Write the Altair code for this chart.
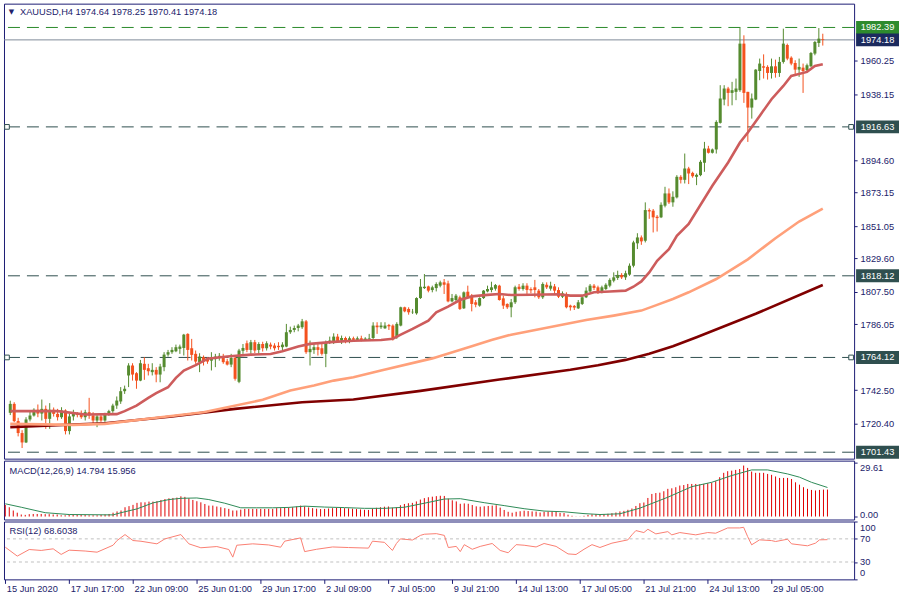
import json
import numpy as np
import pandas as pd
import altair as alt

# ---------------- data ----------------
OPEN = [1727.5,1733.4,1722.0,1714.1,1707.9,1723.1,1725.7,1729.5,1727.0,1730.1,
1723.5,1729.5,1726.8,1724.6,1729.0,1715.4,1725.1,1726.8,1726.5,1724.6,
1727.9,1725.7,1722.4,1725.1,1722.4,1726.4,1728.6,1732.3,1735.0,1741.8,
1752.2,1758.8,1753.7,1748.8,1759.9,1757.0,1754.4,1755.9,1752.8,1757.7,
1766.0,1767.6,1768.2,1769.8,1770.4,1779.7,1770.2,1766.5,1761.0,1764.3,
1763.2,1762.0,1763.0,1764.5,1764.7,1761.6,1759.4,1763.8,1748.0,1768.5,
1773.5,1769.1,1774.2,1769.1,1773.0,1770.2,1772.6,1772.0,1771.8,1770.9,
1771.3,1780.8,1782.3,1783.6,1784.1,1788.0,1767.6,1769.0,1770.9,1770.2,
1766.5,1774.2,1774.5,1777.9,1775.3,1777.0,1774.8,1776.8,1775.8,1776.8,
1775.5,1776.6,1777.0,1785.2,1784.1,1783.4,1785.6,1785.2,1777.5,1785.2,
1797.3,1796.2,1794.0,1793.3,1803.4,1810.0,1811.1,1808.7,1810.0,1811.6,
1813.8,1813.1,1801.2,1802.1,1803.9,1796.6,1807.6,1804.3,1800.6,1798.4,
1803.4,1807.8,1808.7,1809.6,1811.6,1803.2,1799.5,1797.3,1800.6,1810.9,
1809.4,1811.6,1809.4,1810.5,1808.3,1803.9,1812.2,1809.6,1811.1,1808.7,
1804.3,1806.1,1798.4,1798.2,1796.6,1799.5,1803.9,1807.8,1811.6,1810.5,
1807.8,1809.4,1811.6,1814.9,1816.7,1818.7,1817.1,1818.9,1824.8,1839.6,
1843.5,1841.3,1861.6,1861.2,1857.2,1856.8,1864.5,1872.6,1866.7,1870.0,
1883.6,1881.6,1889.1,1886.2,1883.6,1884.7,1892.9,1902.3,1899.5,1901.7,
1919.3,1934.7,1942.0,1939.1,1939.8,1940.9,1971.7,1939.8,1929.4,1934.7,
1953.6,1956.7,1956.3,1952.3,1956.7,1952.3,1959.6,1970.8,1962.4,1958.9,
1954.5,1955.8,1954.1,1956.7,1965.1,1972.1,1974.64]

HIGH = [1735.5,1734.5,1724.2,1716.0,1724.6,1728.6,1730.5,1733.0,1736.3,1732.3,
1733.9,1731.0,1730.1,1731.2,1729.8,1726.8,1729.5,1728.0,1729.0,1729.5,
1737.4,1727.9,1726.4,1726.0,1727.5,1729.5,1733.5,1738.3,1744.5,1745.5,
1760.3,1760.3,1754.4,1762.5,1764.3,1759.9,1760.3,1757.7,1759.9,1767.6,
1769.1,1770.9,1772.6,1772.6,1779.7,1780.1,1776.4,1768.7,1766.9,1765.4,
1764.3,1767.6,1766.5,1767.0,1766.5,1763.2,1766.5,1765.4,1769.8,1773.0,
1775.3,1775.7,1775.7,1774.2,1774.5,1774.8,1774.0,1773.5,1774.2,1774.2,
1786.3,1784.5,1785.2,1786.3,1789.6,1788.9,1775.3,1773.0,1773.0,1773.0,
1775.3,1777.9,1780.1,1779.7,1778.6,1777.9,1778.0,1777.9,1778.0,1778.5,
1777.5,1779.7,1787.4,1787.4,1787.4,1787.4,1786.3,1786.0,1787.4,1797.7,
1797.7,1797.3,1796.2,1803.9,1816.0,1819.3,1811.6,1811.6,1813.8,1814.9,
1816.0,1814.9,1806.1,1806.1,1805.0,1807.8,1811.6,1806.1,1802.1,1803.9,
1808.7,1811.6,1814.2,1812.7,1812.2,1805.0,1799.9,1802.8,1811.6,1812.7,
1813.2,1813.2,1810.5,1815.4,1809.4,1813.8,1813.8,1814.2,1812.7,1810.5,
1807.8,1807.2,1799.0,1798.8,1802.1,1804.3,1810.5,1812.7,1812.7,1811.6,
1811.6,1813.2,1816.5,1820.4,1821.5,1819.9,1821.5,1826.3,1841.3,1846.3,
1844.8,1866.7,1862.7,1862.3,1858.3,1866.7,1877.0,1875.9,1874.0,1884.7,
1884.7,1899.0,1890.2,1887.0,1885.8,1894.6,1906.7,1904.1,1902.3,1921.0,
1944.2,1944.2,1943.1,1946.4,1948.6,1982.39,1977.2,1939.8,1938.7,1954.8,
1961.8,1964.6,1957.4,1961.8,1961.1,1962.9,1981.6,1971.7,1963.3,1960.7,
1961.8,1958.5,1958.5,1966.2,1973.4,1982.0,1978.25]

LOW = [1726.0,1721.3,1711.9,1704.2,1707.5,1721.8,1725.0,1724.6,1722.4,1716.9,
1716.9,1725.0,1722.4,1723.5,1713.2,1713.2,1722.4,1724.5,1723.5,1722.4,
1723.5,1720.2,1718.0,1721.5,1721.5,1725.5,1727.5,1730.1,1733.4,1740.0,
1744.5,1748.8,1743.4,1748.4,1749.3,1752.2,1752.2,1747.7,1747.7,1755.0,
1764.7,1766.5,1767.6,1766.5,1765.4,1762.1,1762.1,1759.9,1754.4,1758.8,
1759.9,1755.5,1757.7,1762.0,1759.9,1758.8,1757.7,1748.8,1747.1,1766.5,
1767.6,1766.5,1767.0,1766.5,1768.0,1768.7,1769.5,1768.7,1769.1,1768.7,
1770.9,1779.7,1780.8,1781.4,1783.0,1766.5,1758.8,1766.5,1765.4,1765.4,
1757.7,1773.0,1773.0,1774.2,1773.0,1773.5,1773.5,1774.5,1775.0,1774.8,
1775.0,1775.3,1775.0,1779.7,1783.0,1783.0,1782.3,1775.3,1776.4,1784.7,
1794.0,1792.4,1792.9,1792.4,1802.8,1809.4,1807.2,1807.2,1807.8,1810.5,
1806.1,1800.6,1800.6,1801.2,1795.5,1796.2,1803.4,1794.6,1797.3,1797.7,
1802.8,1807.2,1807.2,1808.3,1801.7,1796.2,1796.2,1790.7,1799.5,1808.3,
1808.3,1806.1,1806.5,1803.9,1802.8,1802.8,1809.4,1808.3,1806.1,1803.4,
1803.4,1796.6,1795.1,1795.5,1796.2,1798.8,1803.4,1807.2,1808.7,1806.1,
1806.5,1808.7,1810.5,1813.8,1815.4,1816.0,1815.4,1818.1,1823.7,1835.8,
1838.6,1840.2,1855.8,1846.8,1847.4,1856.3,1863.4,1865.6,1863.8,1869.3,
1879.2,1879.2,1878.8,1883.0,1878.1,1884.0,1886.9,1899.0,1899.0,1899.0,
1918.8,1930.9,1930.3,1930.9,1934.3,1939.8,1932.5,1906.7,1922.1,1934.3,
1947.5,1948.6,1947.9,1948.6,1949.2,1949.7,1958.5,1960.7,1957.4,1950.8,
1949.7,1939.1,1953.0,1956.3,1964.0,1969.5,1970.41]

CLOSE = [1733.4,1722.0,1714.1,1707.9,1723.1,1725.7,1729.5,1727.0,1730.1,1723.5,
1729.5,1726.8,1724.6,1729.0,1715.4,1725.1,1726.8,1726.0,1724.6,1727.9,
1725.7,1722.4,1725.1,1722.4,1726.4,1728.6,1732.3,1735.6,1741.8,1743.4,
1758.8,1752.8,1748.8,1760.3,1755.9,1755.0,1755.9,1752.8,1758.1,1766.0,
1767.6,1769.1,1770.9,1771.3,1779.2,1769.1,1765.8,1761.4,1764.7,1761.6,
1761.4,1764.3,1764.7,1765.2,1761.0,1759.4,1763.8,1750.0,1768.7,1770.4,
1769.1,1774.2,1768.7,1773.0,1770.2,1773.5,1771.3,1770.2,1770.9,1772.6,
1780.8,1782.3,1783.6,1785.2,1788.0,1767.6,1769.8,1770.9,1769.1,1766.5,
1774.2,1775.3,1777.9,1774.8,1777.0,1774.8,1776.8,1775.8,1776.8,1775.5,
1776.6,1777.0,1785.2,1784.1,1785.2,1785.2,1784.7,1776.4,1786.3,1797.3,
1794.6,1794.0,1794.3,1803.4,1810.9,1810.9,1808.3,1810.5,1812.7,1813.8,
1812.2,1801.2,1803.4,1805.0,1796.2,1807.2,1803.9,1799.5,1799.0,1803.4,
1808.3,1809.4,1810.5,1812.0,1802.1,1798.4,1797.3,1800.6,1810.5,1809.4,
1811.6,1808.8,1808.5,1808.7,1803.9,1812.7,1810.5,1811.6,1808.3,1804.3,
1806.5,1797.3,1797.3,1797.1,1800.6,1803.9,1808.3,1811.6,1810.1,1807.2,
1810.5,1812.2,1815.4,1817.1,1818.7,1817.1,1819.8,1824.8,1840.2,1843.5,
1840.9,1861.6,1860.7,1856.8,1856.3,1865.1,1872.6,1866.7,1870.4,1883.6,
1881.6,1889.1,1885.8,1884.0,1884.9,1893.5,1902.3,1899.5,1901.7,1919.9,
1935.4,1942.0,1939.1,1940.9,1942.0,1971.7,1939.1,1929.4,1935.4,1954.5,
1958.5,1955.8,1952.3,1956.7,1952.3,1959.6,1971.7,1961.8,1958.5,1954.5,
1956.3,1953.6,1957.4,1965.5,1972.8,1975.0,1974.18]

# moving averages, sampled at bar indices
MA_FAST_BAR = [0,12,19,27,29,32,35,37,40,42,44,47,50,55,61,66,69,73,76,82,
               87,94,97,99,102,106,108,111,114,117,121,124,127,132,139,142,145,148,152,156,
               158,160,162,164,167,169,172,178,182,185,187,190,193,196,198,202,204,206]
MA_FAST = [1728.6,1728.6,1726.4,1726.6,1728.6,1732.3,1737.4,1740.5,1744.4,1750.6,
           1755.4,1759.0,1763.2,1764.7,1766.0,1766.4,1768.2,1771.3,1773.1,1774.4,
           1775.2,1775.7,1776.5,1779.2,1783.0,1788.5,1794.0,1797.7,1802.1,1804.5,
           1805.5,1806.1,1805.4,1805.6,1805.9,1805.0,1805.0,1807.2,1807.7,1808.3,
           1810.9,1814.4,1820.4,1828.1,1835.8,1844.6,1852.4,1877.7,1893.1,1906.3,
           1912.9,1923.9,1934.9,1943.7,1950.3,1953.0,1956.9,1958.1]
MA_MID_BAR = [0,16,24,37,49,64,71,77,82,87,94,107,117,122,127,146,153,160,164,168,172,179,187,194,200,206]
MA_MID = [1720.2,1719.5,1720.2,1724.2,1727.9,1736.1,1742.2,1745.5,1748.8,1751.0,1755.5,1763.5,
          1771.5,1775.7,1779.2,1788.9,1791.8,1795.1,1798.9,1802.8,1807.2,1816.0,1829.0,1843.0,1854.0,1862.5]
MA_SLOW_BAR = [0,24,41,57,74,87,104,124,142,149,156,162,168,174,189,206]
MA_SLOW = [1718.0,1720.6,1725.0,1730.1,1734.5,1736.3,1742.0,1749.5,1756.0,1759.0,1762.5,1766.5,
           1771.5,1777.5,1793.0,1812.0]

MACD_MAIN = [6.4,5.1,3.3,2.1,1.1,0.9,1.3,1.4,1.4,1.4,
1.3,1.3,1.1,1.1,0.7,0.7,0.9,0.9,0.9,0.9,
0.9,0.7,0.7,0.7,0.9,1.1,1.4,2.1,2.8,3.3,
5.1,5.7,6.4,7.5,7.8,7.8,8.2,8.2,8.4,9.1,
9.6,10.0,10.2,10.4,11.1,10.8,10.0,9.1,8.4,7.8,
6.9,6.0,6.0,5.5,5.1,4.6,4.2,3.3,3.3,3.8,
4.2,4.2,4.2,4.2,4.2,4.2,4.2,4.2,4.6,4.6,
4.8,5.0,5.1,5.5,6.0,5.6,5.0,4.6,4.3,4.1,
4.2,4.4,4.6,4.7,4.7,4.6,4.5,4.3,4.1,3.9,
3.7,3.6,4.3,4.8,5.1,5.4,5.5,4.8,5.0,6.2,
6.9,7.3,7.5,8.3,9.3,10.1,10.6,10.9,11.2,11.4,
11.3,9.8,8.9,8.3,7.0,7.2,7.0,6.3,5.6,5.4,
5.6,5.8,6.0,6.2,4.9,3.6,2.6,2.1,2.6,2.9,
3.2,3.0,2.8,2.7,2.2,2.6,2.7,2.8,2.6,2.0,
1.9,1.0,0.4,0.1,0.1,0.4,0.9,1.2,1.3,
1.1,1.3,1.5,1.8,2.2,2.8,3.1,3.7,4.4,5.8,
7.3,7.7,10.2,12.4,12.9,13.1,13.9,15.2,15.5,16.1,
17.0,17.3,17.9,17.9,17.9,17.7,17.9,18.3,18.6,19.4,
21.6,24.0,24.9,25.2,25.6,26.1,28.0,26.7,24.7,24.0,
24.0,24.0,23.4,22.9,22.0,21.2,21.2,21.2,20.6,18.8,
17.5,16.1,15.2,14.6,14.3,14.6,14.8,14.794]
MACD_SIGNAL_BAR = [0,4,10,16,27,29,33,37,41,44,48,51,55,59,63,67,71,75,80,85,
                   90,95,100,105,110,114,120,125,130,135,140,145,149,154,159,166,172,177,182,187,
                   191,196,199,202,206]
MACD_SIGNAL = [7.0,5.1,2.1,1.1,0.9,2.1,4.2,7.5,9.3,10.0,10.2,9.3,7.3,4.8,4.8,4.8,5.0,5.7,5.2,4.9,
               4.5,4.5,5.1,7.3,9.6,9.8,7.6,6.0,4.3,3.0,2.6,1.6,1.1,1.5,4.6,10.6,16.4,18.8,22.5,25.6,
               25.6,23.4,21.6,18.8,15.956]

RSI_BAR = [0,3,6,9,12,14,16,20,23,27,28,30,32,34,38,40,44,46,49,53,
           56,57,58,62,66,69,70,74,75,78,82,86,91,92,95,97,98,99,102,104,
           105,108,110,111,113,114,115,117,119,122,124,126,128,130,133,135,138,141,143,145,
           147,149,152,156,157,158,160,161,163,166,167,169,173,176,178,181,184,185,186,187,
           189,192,193,196,197,201,203,204,206]
RSI = [55.6,40.2,51.6,50.0,52.8,43.1,50.5,49.0,47.0,59.0,67.1,77.4,67.1,65.9,61.4,70.0,77.4,61.4,54.6,56.7,
       51.6,38.4,59.0,61.4,59.5,55.6,66.0,71.7,48.0,52.0,56.0,55.0,54.0,66.0,64.0,50.0,62.0,70.0,68.0,76.0,
       78.0,79.0,76.0,55.0,57.0,48.0,60.0,52.0,57.0,62.0,50.0,46.0,60.0,59.0,56.0,62.0,57.0,44.0,43.0,52.0,
       60.0,55.1,62.6,68.3,76.9,84.3,80.9,86.6,78.6,82.5,76.9,80.9,76.9,80.9,79.8,88.9,88.9,90.0,74.0,59.7,
       68.3,67.0,65.4,69.4,61.4,58.0,62.6,68.3,68.6038]

X_TICK_BARS = [0,16,32,48,64,80,96,112,128,144,160,176,192]
X_TICK_LABELS = ["15 Jun 2020","17 Jun 17:00","22 Jun 09:00","25 Jun 01:00","29 Jun 17:00",
                 "2 Jul 09:00","7 Jul 05:00","9 Jul 21:00","14 Jul 13:00","17 Jul 05:00",
                 "21 Jul 21:00","24 Jul 13:00","29 Jul 05:00"]
PRICE_TICKS = [1960.25,1938.15,1894.60,1873.15,1851.05,1829.60,1807.50,1786.05,1742.50,1720.40]
LEVELS = [1916.63,1818.12,1764.12,1701.43]
MARKED_LEVELS = [1916.63,1764.12]
HIGH_LEVEL = [1982.39]
LAST_PRICE = [1974.18]
LEVEL_TAGS = ["1916.63","1818.12","1764.12","1701.43"]
HIGH_TAG = ["1982.39"]
LAST_TAG = ["1974.18"]
MACD_LABEL_VALUES = [29.61, 0.0]
MACD_LABEL_TEXT = ["29.61", "0.00"]
RSI_LEVELS = [70, 30]
RSI_TICKS = [100, 70, 30, 0]

TITLE = "XAUUSD,H4  1974.64 1978.25 1970.41 1974.18"
MACD_TITLE = "MACD(12,26,9) 14.794 15.956"
RSI_TITLE = "RSI(12) 68.6038"

# ---------------- styling ----------------
W = 852
H_MAIN, H_MACD, H_RSI = 456, 59, 58
NAVY = "#1c1c74"
TXT = "#22226a"
UP, DOWN = "#558b2f", "#f4511e"
SLATE = "#2f4f4f"
FONT = "Liberation Sans"
FS = 9.3

xs = alt.Scale(domain=[-0.325, 212.675], nice=False, zero=False)
ps = alt.Scale(domain=[1697.18, 1998.14], nice=False, zero=False)
ms = alt.Scale(domain=[-1.64, 30.70], nice=False, zero=False)
rs = alt.Scale(domain=[0, 100], nice=False, zero=False)

P_AXIS = alt.Axis(orient="right", values=PRICE_TICKS, format=".2f", tickSize=3, labelPadding=3,
                  domain=False, grid=False, title=None, labelOverlap=False, labelFlush=False)
M_AXIS = alt.Axis(orient="right", values=MACD_LABEL_VALUES, labels=False, tickSize=3,
                  domain=False, grid=False, title=None)
R_AXIS = alt.Axis(orient="right", values=RSI_TICKS, labels=False, tickSize=3,
                  domain=False, grid=False, title=None)

def PY(field):
    return alt.Y(field, scale=ps, axis=P_AXIS)

def MY(field):
    return alt.Y(field, scale=ms, axis=M_AXIS)

def RY(field):
    return alt.Y(field, scale=rs, axis=R_AXIS)

candles = pd.DataFrame({"i": list(range(len(OPEN))), "o": OPEN, "h": HIGH, "l": LOW, "c": CLOSE})
candles["dir"] = np.where(candles["c"] >= candles["o"], "up", "down")
dir_color = alt.Color("dir:N", scale=alt.Scale(domain=["up", "down"], range=[UP, DOWN]), legend=None)

X_NONE = alt.X("i:Q", scale=xs, axis=None)

# ---------------- main panel ----------------
lev = alt.Chart(pd.DataFrame({"p": LEVELS})).mark_rule(
    color=SLATE, strokeWidth=1, strokeDash=[12, 7]).encode(y=PY("p:Q"))
hi_line = alt.Chart(pd.DataFrame({"p": HIGH_LEVEL})).mark_rule(
    color="#2a8a2a", strokeWidth=1, strokeDash=[12, 7]).encode(y=PY("p:Q"))
last_line = alt.Chart(pd.DataFrame({"p": LAST_PRICE})).mark_rule(
    color="#7f8c99", strokeWidth=1).encode(y=PY("p:Q"))

def ma_line(bars, vals, color):
    return alt.Chart(pd.DataFrame({"i": bars, "v": vals})).mark_line(
        color=color, strokeWidth=2.6, interpolate="linear").encode(x=X_NONE, y=PY("v:Q"))

wicks = alt.Chart(candles).mark_rule(strokeWidth=1).encode(
    x=X_NONE, y=PY("l:Q"), y2="h", color=dir_color)
bodies = alt.Chart(candles).mark_bar(size=3).encode(
    x=X_NONE, y=PY("o:Q"), y2="c", color=dir_color)

def squares(xpx):
    return alt.Chart(pd.DataFrame({"p": MARKED_LEVELS})).mark_square(
        size=22, fill="white", stroke=SLATE, strokeWidth=1, opacity=1).encode(
        x=alt.value(xpx), y=PY("p:Q"))

def tag(prices, texts, fill):
    d = pd.DataFrame({"p": prices, "t": texts})
    r = alt.Chart(d).mark_rect(yOffset=-6.5, y2Offset=6.5, color=fill).encode(
        x=alt.value(W + 2), x2=alt.value(W + 45), y=PY("p:Q"), y2="p")
    t = alt.Chart(d).mark_text(color="white", align="center", baseline="middle",
                               font=FONT, fontSize=FS).encode(
        x=alt.value(W + 23.5), y=PY("p:Q"), text="t:N")
    return [r, t]

tri = alt.Chart(pd.DataFrame({"t": ["▼"]})).mark_text(
    align="center", baseline="middle", fontSize=7, color=TXT, font="DejaVu Sans").encode(
    x=alt.value(7.5), y=alt.value(8.3), text="t:N")
title = alt.Chart(pd.DataFrame({"t": [TITLE]})).mark_text(
    align="left", baseline="middle", color=TXT, font=FONT, fontSize=FS).encode(
    x=alt.value(16), y=alt.value(8.5), text="t:N")

main = alt.layer(
    lev, hi_line, last_line, squares(3), squares(W - 3),
    wicks, bodies,
    ma_line(MA_SLOW_BAR, MA_SLOW, "#800000"),
    ma_line(MA_MID_BAR, MA_MID, "#ffa07a"),
    ma_line(MA_FAST_BAR, MA_FAST, "#cd5c5c"),
    *tag(HIGH_LEVEL, HIGH_TAG, "#2e8b2e"),
    *tag(LAST_PRICE, LAST_TAG, "#1b2a5e"),
    *tag(LEVELS, LEVEL_TAGS, SLATE),
    tri, title,
).properties(width=W, height=H_MAIN)

# ---------------- MACD panel ----------------
macd_df = pd.DataFrame({"i": list(range(len(MACD_MAIN))), "v": MACD_MAIN})
macd_bars = alt.Chart(macd_df).mark_rule(color="#e00000", strokeWidth=1).encode(
    x=X_NONE, y=MY("v:Q"), y2=alt.datum(0))
macd_sig = alt.Chart(pd.DataFrame({"i": MACD_SIGNAL_BAR, "v": MACD_SIGNAL})).mark_line(
    color="#2e8b57", strokeWidth=1).encode(x=X_NONE, y=MY("v:Q"))
ml = pd.DataFrame({"v": MACD_LABEL_VALUES, "t": MACD_LABEL_TEXT})
macd_lab_top = alt.Chart(ml.iloc[[0]]).mark_text(
    align="left", baseline="middle", dy=5, color=TXT, font=FONT, fontSize=FS).encode(
    x=alt.value(W + 6), y=MY("v:Q"), text="t:N")
macd_lab_bot = alt.Chart(ml.iloc[[1]]).mark_text(
    align="left", baseline="middle", dy=-2, color=TXT, font=FONT, fontSize=FS).encode(
    x=alt.value(W + 6), y=MY("v:Q"), text="t:N")
macd_title = alt.Chart(pd.DataFrame({"t": [MACD_TITLE]})).mark_text(
    align="left", baseline="middle", color=TXT, font=FONT, fontSize=FS).encode(
    x=alt.value(5.5), y=alt.value(10), text="t:N")
macd = alt.layer(macd_bars, macd_sig, macd_lab_top, macd_lab_bot, macd_title).properties(
    width=W, height=H_MACD)

# ---------------- RSI panel ----------------
x_label_expr = json.dumps(X_TICK_LABELS) + "[round(datum.value / 16)]"
X_AXIS = alt.X("i:Q", scale=xs, axis=alt.Axis(
    values=X_TICK_BARS, labelExpr=x_label_expr, orient="bottom", tickSize=4, domain=False,
    grid=False, title=None, labelAlign="left", labelPadding=1, labelOffset=1,
    labelOverlap=False, labelFlush=False))
rsi_lev = alt.Chart(pd.DataFrame({"v": RSI_LEVELS})).mark_rule(
    color="#c0c0c0", strokeWidth=1, strokeDash=[3, 3]).encode(y=RY("v:Q"))
rsi_line = alt.Chart(pd.DataFrame({"i": RSI_BAR, "v": RSI})).mark_line(
    color="#fa8072", strokeWidth=1).encode(x=X_AXIS, y=RY("v:Q"))
rl = pd.DataFrame({"v": RSI_TICKS, "t": [str(v) for v in RSI_TICKS]})
rsi_labs = []
for k, dy in zip(range(4), [7, 0, 0, -6.5]):
    rsi_labs.append(alt.Chart(rl.iloc[[k]]).mark_text(
        align="left", baseline="middle", dy=dy, color=TXT, font=FONT, fontSize=FS).encode(
        x=alt.value(W + 6), y=RY("v:Q"), text="t:N"))
rsi_title = alt.Chart(pd.DataFrame({"t": [RSI_TITLE]})).mark_text(
    align="left", baseline="middle", color=TXT, font=FONT, fontSize=FS).encode(
    x=alt.value(5.5), y=alt.value(10), text="t:N")
rsi = alt.layer(rsi_lev, rsi_line, *rsi_labs, rsi_title).properties(width=W, height=H_RSI)

chart = alt.vconcat(main, macd, rsi, spacing=2, bounds="flush").properties(
    padding={"left": 2, "top": 2, "right": 0, "bottom": 0},
    background="white",
).configure_view(stroke=NAVY, strokeWidth=1).configure_axis(
    labelFont=FONT, labelFontSize=FS, labelColor=TXT, tickColor=NAVY, tickWidth=1,
).configure_text(font=FONT)

chart.save("out.html", embed_options={"renderer": "svg", "actions": False})
